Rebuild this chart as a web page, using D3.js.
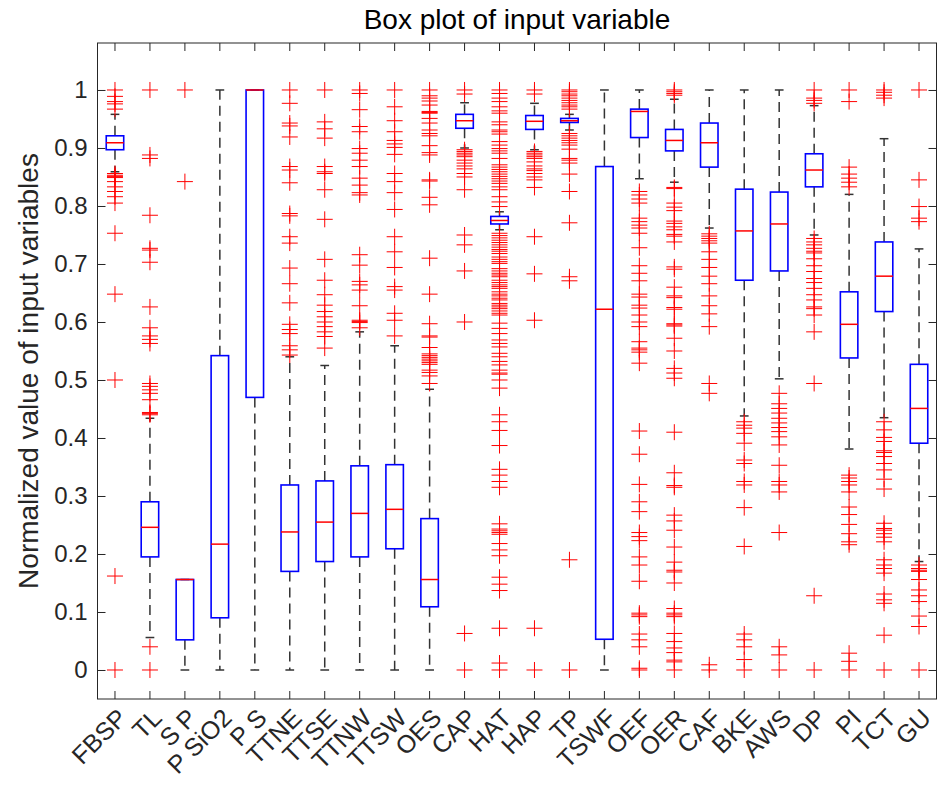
<!DOCTYPE html>
<meta charset="utf-8">
<style>
body { margin: 0; background: #fff; }
svg { font-family: "Liberation Sans", Arial, sans-serif; }
.outlier { stroke: #ff0000; stroke-width: 1; }
</style>
<svg width="937" height="789"></svg>
<script src="https://d3js.org/d3.v7.min.js"></script>
<script>
// variable names along the x axis
let categories = ["FBSP", "TL", "S P", "P SiO2", "P S", "TTNE", "TTSE", "TTNW", "TTSW", "OES",
  "CAP", "HAT", "HAP", "TP", "TSWF", "OEF", "OER", "CAF", "BKE", "AWS", "DP", "PI", "TCT", "GU"];

// box statistics
let whiskerLow  = [0.859, 0.056, 0, 0, 0, 0, 0, 0, 0, 0, 0.900, 0.759, 0.897, 0.931, 0, 0.847, 0.841, 0.762, 0.438, 0.502, 0.750, 0.381, 0.435, 0.187];
let q1          = [0.897, 0.195, 0.052, 0.090, 0.470, 0.170, 0.187, 0.195, 0.209, 0.109, 0.934, 0.769, 0.932, 0.944, 0.053, 0.918, 0.895, 0.867, 0.672, 0.688, 0.833, 0.538, 0.618, 0.391];
let medians     = [0.909, 0.246, 0.156, 0.217, 1.000, 0.238, 0.255, 0.270, 0.277, 0.156, 0.947, 0.775, 0.946, 0.947, 0.622, 0.963, 0.913, 0.909, 0.757, 0.769, 0.862, 0.596, 0.679, 0.451];
let q3          = [0.921, 0.290, 0.156, 0.542, 1.000, 0.319, 0.326, 0.352, 0.354, 0.261, 0.958, 0.782, 0.956, 0.951, 0.868, 0.967, 0.932, 0.943, 0.829, 0.824, 0.890, 0.652, 0.738, 0.527];
let whiskerHigh = [0.958, 0.434, 0.156, 1.000, 1.000, 0.540, 0.525, 0.583, 0.559, 0.484, 0.978, 0.790, 0.977, 0.958, 1.000, 1.000, 0.984, 1.000, 1.000, 1.000, 0.973, 0.820, 0.916, 0.726];

// outliers, one list per variable
let outliers = [
  [1.0, 0.989, 0.980, 0.976, 0.967, 0.856, 0.853, 0.851, 0.849, 0.842, 0.833, 0.825, 0.816, 0.805, 0.753, 0.648, 0.5, 0.162, 0],
  [1.0, 0.888, 0.882, 0.784, 0.727, 0.724, 0.703, 0.626, 0.590, 0.576, 0.570, 0.563, 0.494, 0.489, 0.483, 0.477, 0.466, 0.444, 0.442, 0.440, 0.040, 0],
  [1.0, 0.842],
  [],
  [],
  [1.0, 0.977, 0.943, 0.938, 0.919, 0.868, 0.862, 0.840, 0.787, 0.783, 0.747, 0.736, 0.693, 0.666, 0.633, 0.596, 0.587, 0.580, 0.559, 0.552, 0.543],
  [1.0, 0.945, 0.933, 0.917, 0.868, 0.859, 0.856, 0.828, 0.777, 0.708, 0.672, 0.647, 0.629, 0.618, 0.609, 0.600, 0.592, 0.583, 0.575, 0.555],
  [1.0, 0.994, 0.966, 0.937, 0.928, 0.899, 0.891, 0.879, 0.868, 0.848, 0.836, 0.823, 0.819, 0.716, 0.698, 0.670, 0.664, 0.655, 0.628, 0.603, 0.601, 0.599, 0.590],
  [1.0, 0.971, 0.947, 0.928, 0.913, 0.907, 0.901, 0.889, 0.856, 0.842, 0.823, 0.794, 0.747, 0.721, 0.694, 0.661, 0.655, 0.615, 0.603, 0.576],
  [1.0, 0.990, 0.986, 0.981, 0.974, 0.963, 0.961, 0.960, 0.951, 0.943, 0.931, 0.925, 0.921, 0.904, 0.892, 0.888, 0.845, 0.843, 0.815, 0.802,
   0.710, 0.648, 0.597, 0.576, 0.574, 0.556, 0.545, 0.542, 0.539, 0.536, 0.533, 0.530, 0.527, 0.517, 0.513, 0.507, 0.494],
  [1.0, 0.993, 0.897, 0.894, 0.891, 0.888, 0.885, 0.879, 0.874, 0.869, 0.864, 0.856, 0.850, 0.828, 0.750, 0.733, 0.688, 0.600, 0.063, 0],
  [1.0, 0.994, 0.986, 0.980, 0.971, 0.964, 0.960, 0.945, 0.940, 0.931, 0.928, 0.924, 0.911, 0.905, 0.899, 0.895, 0.891, 0.882,
   0.871, 0.867, 0.863, 0.859, 0.855, 0.851, 0.847, 0.843, 0.839, 0.833, 0.828, 0.816, 0.807, 0.799,
   0.753, 0.749, 0.745, 0.741, 0.737, 0.733, 0.729, 0.725, 0.722, 0.718, 0.712, 0.708, 0.704, 0.701, 0.692, 0.688, 0.684, 0.681, 0.678,
   0.672, 0.668, 0.664, 0.661, 0.658, 0.652, 0.648, 0.645, 0.641, 0.638, 0.632, 0.629, 0.626, 0.623, 0.619, 0.615, 0.612,
   0.598, 0.589, 0.580, 0.569, 0.563, 0.557, 0.546, 0.540, 0.532, 0.526, 0.517, 0.512, 0.510, 0.500, 0.486, 0.440, 0.428, 0.413, 0.387,
   0.346, 0.336, 0.325, 0.315, 0.252, 0.243, 0.240, 0.237, 0.234, 0.218, 0.207, 0.197, 0.160, 0.148, 0.137, 0.072, 0.012, 0],
  [1.0, 0.993, 0.894, 0.891, 0.888, 0.885, 0.882, 0.876, 0.869, 0.864, 0.861, 0.856, 0.850, 0.845, 0.832, 0.747, 0.683, 0.603, 0.072, 0],
  [1.0, 0.997, 0.993, 0.990, 0.986, 0.982, 0.978, 0.974, 0.971, 0.967, 0.925, 0.921, 0.917, 0.913, 0.909, 0.905,
   0.898, 0.882, 0.879, 0.874, 0.855, 0.825, 0.771, 0.678, 0.671, 0.190, 0],
  [],
  [0.825, 0.819, 0.812, 0.805, 0.779, 0.773, 0.767, 0.762, 0.753, 0.728, 0.697, 0.684, 0.671, 0.648, 0.643, 0.629, 0.624, 0.612, 0.600,
   0.592, 0.566, 0.555, 0.552, 0.548, 0.529, 0.412, 0.372, 0.320, 0.290, 0.273, 0.237, 0.230, 0.223, 0.195, 0.181, 0.153,
   0.098, 0.095, 0.092, 0.062, 0.052, 0.040, 0.003, 0],
  [1.0, 0.997, 0.994, 0.991, 0.832, 0.830, 0.805, 0.798, 0.792, 0.774, 0.770, 0.764, 0.759, 0.751, 0.748, 0.738, 0.695, 0.691, 0.660,
   0.645, 0.642, 0.625, 0.622, 0.597, 0.595, 0.593, 0.572, 0.550, 0.520, 0.512, 0.503, 0.410, 0.340, 0.318, 0.315, 0.267, 0.257,
   0.241, 0.212, 0.186, 0.172, 0.169, 0.150, 0.106, 0.098, 0.095, 0.092, 0.063, 0.049, 0.038, 0.030, 0.017, 0.014, 0],
  [0.752, 0.748, 0.744, 0.740, 0.736, 0.721, 0.708, 0.694, 0.679, 0.666, 0.645, 0.628, 0.614, 0.592, 0.494, 0.477, 0.009, 0],
  [0.428, 0.422, 0.417, 0.408, 0.391, 0.362, 0.356, 0.325, 0.319, 0.280, 0.213, 0.062, 0.052, 0.040, 0.018, 0],
  [0.477, 0.459, 0.451, 0.443, 0.434, 0.426, 0.418, 0.411, 0.402, 0.388, 0.353, 0.325, 0.319, 0.307, 0.237, 0.040, 0.026, 0],
  [1.0, 0.986, 0.982, 0.977, 0.744, 0.738, 0.733, 0.727, 0.722, 0.719, 0.709, 0.697, 0.687, 0.675, 0.668, 0.658, 0.647, 0.638,
   0.626, 0.623, 0.612, 0.583, 0.494, 0.128, 0],
  [1.0, 0.980, 0.867, 0.855, 0.848, 0.841, 0.833, 0.336, 0.331, 0.325, 0.319, 0.307, 0.281, 0.268, 0.251, 0.235, 0.221, 0.216, 0.029, 0.015, 0],
  [1.0, 0.996, 0.991, 0.986, 0.428, 0.414, 0.401, 0.394, 0.378, 0.375, 0.368, 0.356, 0.345, 0.329, 0.312, 0.253, 0.244, 0.241,
   0.235, 0.229, 0.221, 0.190, 0.181, 0.175, 0.167, 0.131, 0.121, 0.115, 0.060, 0],
  [1.0, 0.845, 0.799, 0.779, 0.773, 0.181, 0.175, 0.172, 0.170, 0.156, 0.138, 0.128, 0.118, 0.093, 0.075, 0]
];

let yTicks = [0, 0.1, 0.2, 0.3, 0.4, 0.5, 0.6, 0.7, 0.8, 0.9, 1];

let svg = d3.select("svg"),
  mLeft = 97.5, mRight = 936.5, mTop = 43, mBottom = 699;

let x = d3.scaleBand().domain(categories).range([mLeft, mRight]).padding(0);
let y = d3.scaleLinear().domain([-0.05, 1.081]).range([mBottom, mTop]);
let cx = function(i) { return x(categories[i]) + x.bandwidth() / 2; };
let boxW = x.bandwidth() * 0.5, capW = boxW * 0.5;

let stats = categories.map(function(c, i) {
  return {i: i, lo: whiskerLow[i], q1: q1[i], med: medians[i], q3: q3[i], hi: whiskerHigh[i]};
});

// axes (ticks point inward, on all four sides)
let tickLen = 8;
svg.append("g").attr("transform", "translate(" + mLeft + ",0)")
  .call(d3.axisLeft(y).tickValues(yTicks).tickSize(-tickLen).tickPadding(10).tickFormat(d3.format("")))
  .call(g => g.select(".domain").remove());
svg.append("g").attr("transform", "translate(" + mRight + ",0)")
  .call(d3.axisRight(y).tickValues(yTicks).tickSize(-tickLen).tickFormat(""))
  .call(g => g.select(".domain").remove());
let xb = svg.append("g").attr("transform", "translate(0," + mBottom + ")")
  .call(d3.axisBottom(x).tickSize(-tickLen).tickPadding(6))
  .call(g => g.select(".domain").remove());
svg.append("g").attr("transform", "translate(0," + mTop + ")")
  .call(d3.axisTop(x).tickSize(-tickLen).tickFormat(""))
  .call(g => g.select(".domain").remove());

svg.selectAll(".tick line").attr("stroke", "#262626");
svg.selectAll(".tick text").attr("fill", "#262626").style("font-size", "24px");
xb.selectAll(".tick text")
  .style("font-size", "25px")
  .attr("text-anchor", "end")
  .attr("transform", "translate(-4,3) rotate(-45)")
  .attr("dy", "0.75em");

svg.append("rect")
  .attr("x", mLeft).attr("y", mTop)
  .attr("width", mRight - mLeft).attr("height", mBottom - mTop)
  .attr("fill", "none").attr("stroke", "#262626").attr("stroke-width", 1);

// whiskers
let g = svg.append("g");
g.selectAll(".wlo").data(stats).enter().append("line")
  .attr("x1", d => cx(d.i)).attr("x2", d => cx(d.i))
  .attr("y1", d => y(d.q1)).attr("y2", d => y(d.lo))
  .attr("stroke", "#333").attr("stroke-width", 1.5).attr("stroke-dasharray", "10,6");
g.selectAll(".whi").data(stats).enter().append("line")
  .attr("x1", d => cx(d.i)).attr("x2", d => cx(d.i))
  .attr("y1", d => y(d.q3)).attr("y2", d => y(d.hi))
  .attr("stroke", "#333").attr("stroke-width", 1.5).attr("stroke-dasharray", "10,6");
g.selectAll(".caplo").data(stats).enter().append("line")
  .attr("x1", d => cx(d.i) - capW / 2).attr("x2", d => cx(d.i) + capW / 2)
  .attr("y1", d => y(d.lo)).attr("y2", d => y(d.lo))
  .attr("stroke", "#333").attr("stroke-width", 1.5);
g.selectAll(".caphi").data(stats).enter().append("line")
  .attr("x1", d => cx(d.i) - capW / 2).attr("x2", d => cx(d.i) + capW / 2)
  .attr("y1", d => y(d.hi)).attr("y2", d => y(d.hi))
  .attr("stroke", "#333").attr("stroke-width", 1.5);

// boxes and medians
g.selectAll(".box").data(stats).enter().append("rect")
  .attr("x", d => cx(d.i) - boxW / 2).attr("width", boxW)
  .attr("y", d => y(d.q3)).attr("height", d => y(d.q1) - y(d.q3))
  .attr("fill", "none").attr("stroke", "#0000ff").attr("stroke-width", 1.6);
g.selectAll(".med").data(stats).enter().append("line")
  .attr("x1", d => cx(d.i) - boxW / 2).attr("x2", d => cx(d.i) + boxW / 2)
  .attr("y1", d => y(d.med)).attr("y2", d => y(d.med))
  .attr("stroke", "#ff0000").attr("stroke-width", 1.5);

// outliers as '+' markers
let pts = [];
outliers.forEach(function(list, i) { list.forEach(function(v) { pts.push({i: i, v: v}); }); });
let ms = 8;
g.selectAll(".outlier").data(pts).enter().append("path")
  .attr("class", "outlier")
  .attr("d", d => {
    let px = cx(d.i), py = y(d.v);
    return "M" + (px - ms) + "," + py + "H" + (px + ms) + "M" + px + "," + (py - ms) + "V" + (py + ms);
  })
  .attr("fill", "none");

// labels
svg.append("text")
  .attr("x", (mLeft + mRight) / 2).attr("y", 29)
  .attr("text-anchor", "middle")
  .style("font-size", "28px").attr("fill", "#000")
  .text("Box plot of input variable");

svg.append("text")
  .attr("transform", "translate(38," + (mTop + mBottom) / 2 + ") rotate(-90)")
  .attr("text-anchor", "middle")
  .style("font-size", "28px").attr("fill", "#262626")
  .text("Normalized value of input variables");
</script>
